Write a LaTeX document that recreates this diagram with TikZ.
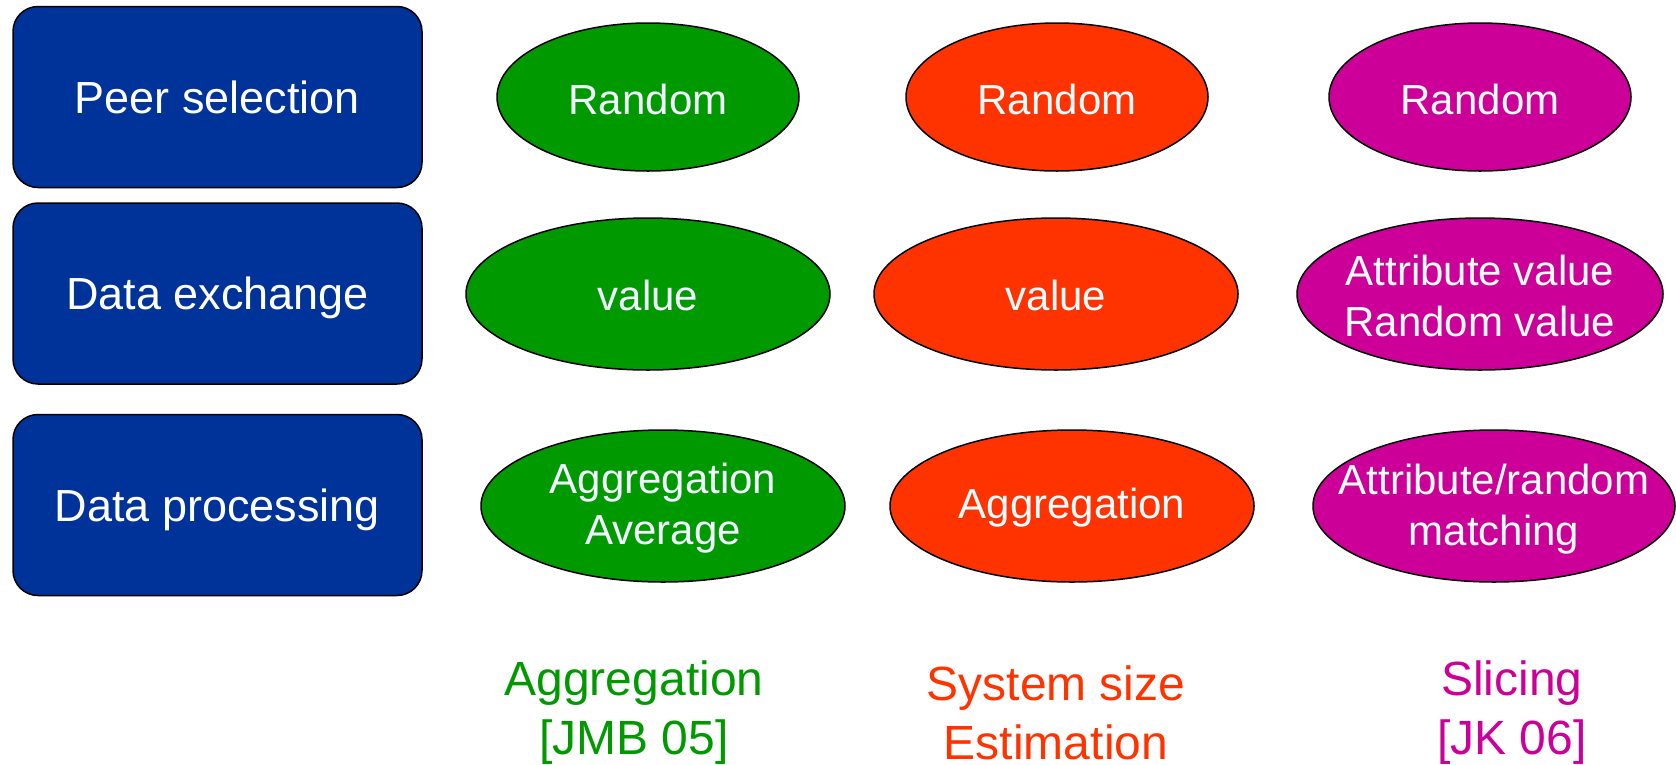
\documentclass[tikz,border=0pt]{standalone}
\usepackage{fontspec}
\setmainfont{Liberation Sans}
\definecolor{boxblue}{HTML}{003399}
\definecolor{agggreen}{HTML}{009900}
\definecolor{sizered}{HTML}{FF3300}
\definecolor{slicemag}{HTML}{CC0099}
\definecolor{paletext}{HTML}{F2FCFF}
\begin{document}
\begin{tikzpicture}[x=1pt,y=-1pt,
  rowbox/.style={draw=black, line width=1.5pt, fill=boxblue, rounded corners=25pt,
    minimum width=409pt, minimum height=181pt, text=white, inner sep=0pt,
    text height=32pt, text depth=0pt,
    font=\fontsize{45}{54}\selectfont},
  blob/.style={draw=black, line width=1.5pt},
  blobtext/.style={text=paletext, align=center, inner sep=0pt,
    font=\fontsize{42}{51}\selectfont},
  caption/.style={align=center, inner sep=0pt, font=\fontsize{48}{59}\selectfont}]
\useasboundingbox (0,0) rectangle (1676,764);

% row headings
\node[rowbox] (peer) at (217.5,97) {Peer selection};
\node[rowbox] (exch) at (217.5,293.5) {Data exchange};
\node[rowbox] (proc) at (217.5,505) {Data processing};

% aggregation column
\draw[blob, fill=agggreen] (648,97) ellipse [x radius=151pt, y radius=74pt];
\node[blobtext] (aggpeer) at (648,99) {Random};
\draw[blob, fill=agggreen] (648,294) ellipse [x radius=182pt, y radius=76pt];
\node[blobtext] (aggexch) at (648,295) {value};
\draw[blob, fill=agggreen] (663,506) ellipse [x radius=182pt, y radius=76pt];
\node[blobtext] (aggproc) at (663,508) {Aggregation\\Average};

% system size column
\draw[blob, fill=sizered] (1057,97) ellipse [x radius=151pt, y radius=74pt];
\node[blobtext] (sizepeer) at (1057,99) {Random};
\draw[blob, fill=sizered] (1056,294) ellipse [x radius=182pt, y radius=76pt];
\node[blobtext] (sizeexch) at (1056,295) {value};
\draw[blob, fill=sizered] (1072,506) ellipse [x radius=182pt, y radius=76pt];
\node[blobtext] (sizeproc) at (1072,508) {Aggregation};

% slicing column
\draw[blob, fill=slicemag] (1480,97) ellipse [x radius=151pt, y radius=74pt];
\node[blobtext] (slicepeer) at (1480,99) {Random};
\draw[blob, fill=slicemag] (1480,294) ellipse [x radius=183pt, y radius=76pt];
\node[blobtext] (sliceexch) at (1480,296) {Attribute value\\Random value};
\draw[blob, fill=slicemag] (1494,506) ellipse [x radius=181pt, y radius=76pt];
\node[blobtext] (sliceproc) at (1494,509) {Attribute/random\\matching};

% column captions
\node[caption, text=agggreen] (aggcap) at (634,713) {Aggregation\\{[JMB 05]}};
\node[caption, text=sizered] (sizecap) at (1056,713) {System size\\Estimation};
\node[caption, text=slicemag] (slicecap) at (1512,713) {Slicing\\{[JK 06]}};
\end{tikzpicture}
\end{document}
